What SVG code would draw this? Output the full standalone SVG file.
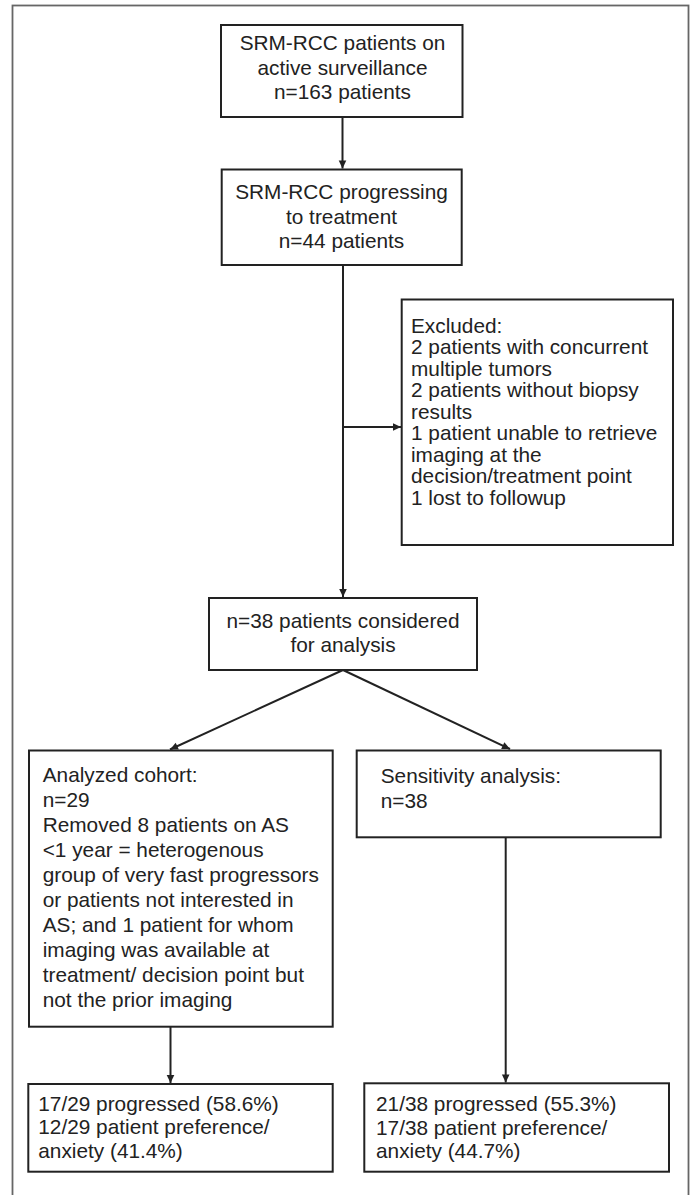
<svg xmlns="http://www.w3.org/2000/svg" width="694" height="1195" viewBox="0 0 694 1195">
<style>
.box{fill:#fff;stroke:#222;stroke-width:2}
.t{font-family:"Liberation Sans",Arial,sans-serif;font-size:20.8px;fill:#222}
.c{text-anchor:middle}
.ln{stroke:#222;stroke-width:2;fill:none}
</style>
<defs>
<marker id="ah" markerWidth="10" markerHeight="10" refX="9" refY="5" orient="auto" markerUnits="userSpaceOnUse">
<path d="M1,1.2 L9,5 L1,8.8 Z" fill="#222"/>
</marker>
</defs>
<rect x="12.5" y="5.5" width="676" height="1192" fill="#fff" stroke="#666" stroke-width="1.8"/>
<g id="connectors">
<line class="ln" x1="342.5" y1="117" x2="342.5" y2="168.5" marker-end="url(#ah)"/>
<line class="ln" x1="343" y1="265" x2="343" y2="597" marker-end="url(#ah)"/>
<line class="ln" x1="343" y1="427" x2="401" y2="427" marker-end="url(#ah)"/>
<line class="ln" x1="343" y1="670" x2="170" y2="749.5" marker-end="url(#ah)"/>
<line class="ln" x1="343" y1="670" x2="510" y2="749" marker-end="url(#ah)"/>
<line class="ln" x1="170.5" y1="1027" x2="170.5" y2="1083" marker-end="url(#ah)"/>
<line class="ln" x1="505.7" y1="837" x2="505.7" y2="1082.5" marker-end="url(#ah)"/>
</g>
<g id="n1">
<rect class="box" x="221" y="25" width="241.5" height="92"/>
<text class="t c" x="342.5" y="50">SRM-RCC patients on</text>
<text class="t c" x="342.5" y="74.5">active surveillance</text>
<text class="t c" x="342.5" y="99">n=163 patients</text>
</g>
<g id="n2">
<rect class="box" x="221.7" y="169.5" width="240" height="95.5"/>
<text class="t c" x="341.5" y="199">SRM-RCC progressing</text>
<text class="t c" x="341.5" y="223.5">to treatment</text>
<text class="t c" x="341.5" y="248">n=44 patients</text>
</g>
<g id="excluded">
<rect class="box" x="401.7" y="299.5" width="271.3" height="245.5"/>
<text class="t" x="411" y="332.5">Excluded:</text>
<text class="t" x="411" y="354">2 patients with concurrent</text>
<text class="t" x="411" y="375.5">multiple tumors</text>
<text class="t" x="411" y="397">2 patients without biopsy</text>
<text class="t" x="411" y="418.5">results</text>
<text class="t" x="411" y="440">1 patient unable to retrieve</text>
<text class="t" x="411" y="461.5">imaging at the</text>
<text class="t" x="411" y="483">decision/treatment point</text>
<text class="t" x="411" y="504.5">1 lost to followup</text>
</g>
<g id="n38">
<rect class="box" x="209" y="598" width="268" height="72"/>
<text class="t c" x="343" y="628">n=38 patients considered</text>
<text class="t c" x="343" y="652">for analysis</text>
</g>
<g id="analyzed">
<rect class="box" x="29" y="750.5" width="303.7" height="276.2"/>
<text class="t" x="42.7" y="781.7">Analyzed cohort:</text>
<text class="t" x="42.7" y="806.7">n=29</text>
<text class="t" x="42.7" y="831.7">Removed 8 patients on AS</text>
<text class="t" x="42.7" y="856.7">&lt;1 year = heterogenous</text>
<text class="t" x="42.7" y="881.7">group of very fast progressors</text>
<text class="t" x="42.7" y="906.7">or patients not interested in</text>
<text class="t" x="42.7" y="931.7">AS; and 1 patient for whom</text>
<text class="t" x="42.7" y="956.7">imaging was available at</text>
<text class="t" x="42.7" y="981.7">treatment/ decision point but</text>
<text class="t" x="42.7" y="1006.7">not the prior imaging</text>
</g>
<g id="sensitivity">
<rect class="box" x="356.7" y="750.5" width="304" height="86.8"/>
<text class="t" x="380.7" y="783.3">Sensitivity analysis:</text>
<text class="t" x="380.7" y="808.3">n=38</text>
</g>
<g id="result-left">
<rect class="box" x="28.3" y="1084" width="304.4" height="87.7"/>
<text class="t" x="38.3" y="1110.5">17/29 progressed (58.6%)</text>
<text class="t" x="38.3" y="1134">12/29 patient preference/</text>
<text class="t" x="38.3" y="1157.5">anxiety (41.4%)</text>
</g>
<g id="result-right">
<rect class="box" x="364.3" y="1083.3" width="304.7" height="88.4"/>
<text class="t" x="376" y="1111.2">21/38 progressed (55.3%)</text>
<text class="t" x="376" y="1134.7">17/38 patient preference/</text>
<text class="t" x="376" y="1158.2">anxiety (44.7%)</text>
</g>
</svg>
